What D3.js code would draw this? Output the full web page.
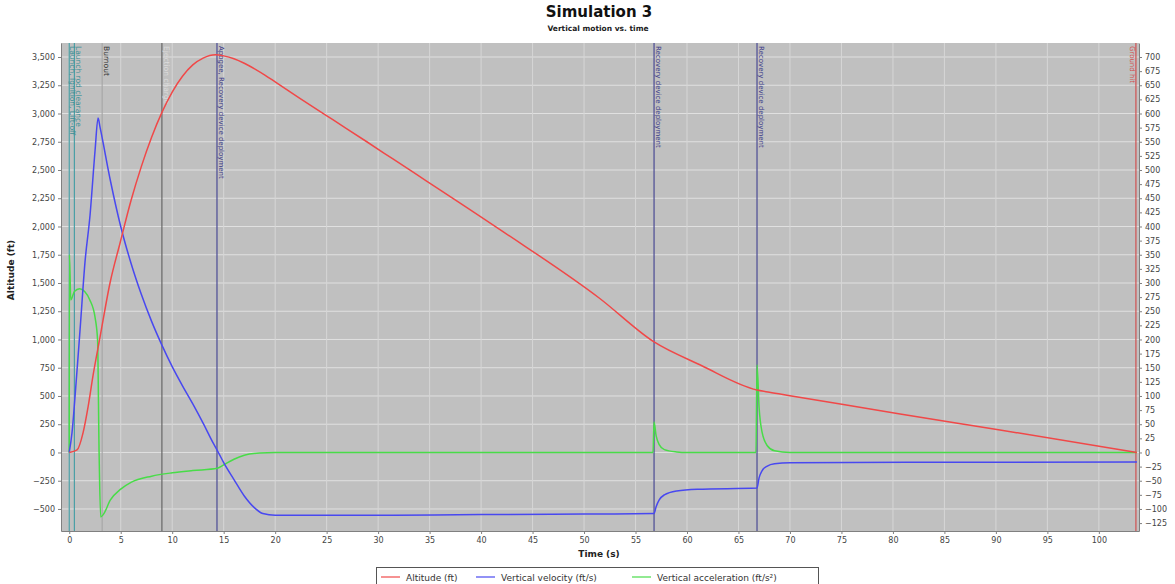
<!DOCTYPE html>
<html>
<head>
<meta charset="utf-8">
<script src="https://cdn.jsdelivr.net/npm/d3@7"></script>
<style>
  body { margin: 0; background: #fff; }
  text { font-family: "DejaVu Sans", sans-serif; }
</style>
</head>
<body>
<svg id="chart" width="1175" height="584"></svg>
<script>
// values
const altTime = [0, 0.76, 1.34, 1.83, 2.31, 2.99, 3.96, 4.93, 6, 7, 8, 9, 10, 11, 12, 13, 14.2, 15, 16, 17, 18, 19, 20, 22.4, 25.6, 28.9, 31.4, 41.8, 51.5, 56.8, 61.3, 66.8, 68, 70, 80.7, 90.4, 103.7];
const altitude = [0, 22, 173, 403, 680, 1020, 1500, 1852, 2230, 2530, 2790, 3010, 3190, 3330, 3430, 3490, 3520, 3510, 3485, 3445, 3395, 3340, 3280, 3135, 2945, 2750, 2600, 1975, 1365, 978, 774, 553, 533, 503, 341, 199, 0];

const velTime = [0, 0.27, 0.56, 1.05, 1.53, 2.02, 2.51, 2.8, 3.0, 4, 5, 6, 7, 8, 9, 10, 11, 12, 13, 14, 14.4, 15, 16, 17, 18, 18.8, 20, 30, 40, 50, 56.8, 57.0, 57.3, 57.8, 59, 61, 66.8, 67.0, 67.3, 67.8, 68.5, 70, 103.7];
const velocity = [0, 35, 98, 217, 337, 420, 535, 592, 575, 481, 400, 335, 280, 232, 190, 152, 118, 86, 52, 16, 3, -18, -48, -77, -98, -108, -111, -111, -110, -109, -108, -96, -84, -75, -68, -65, -63, -45, -32, -24, -20, -18, -17];

const accTime = [0, 0.02, 0.15, 0.5, 1.0, 1.5, 2.0, 2.5, 2.75, 2.9, 3.05, 3.3, 4, 5, 6, 8, 10, 12, 14.4, 15, 16, 17, 18.5, 20, 56.7, 56.8, 57.0, 57.3, 57.8, 59, 60, 66.7, 66.8, 67.0, 67.3, 67.8, 68.5, 70, 103.7];
const acceleration = [0, 350, 270, 285, 290, 285, 270, 240, 200, 0, -114, -110, -84, -65, -53, -42, -36, -32, -28, -22, -12, -5, -1, 0, 0, 54, 30, 14, 5, 1, 0, 0, 155, 80, 35, 12, 3, 0, 0];

const xTicks = [0, 5, 10, 15, 20, 25, 30, 35, 40, 45, 50, 55, 60, 65, 70, 75, 80, 85, 90, 95, 100];
const leftTicks = [-500, -250, 0, 250, 500, 750, 1000, 1250, 1500, 1750, 2000, 2250, 2500, 2750, 3000, 3250, 3500];
const rightTicks = [-125, -100, -75, -50, -25, 0, 25, 50, 75, 100, 125, 150, 175, 200, 225, 250, 275, 300, 325, 350, 375, 400, 425, 450, 475, 500, 525, 550, 575, 600, 625, 650, 675, 700];

const eventTimes = [0, 0.5, 3.2, 9.0, 14.35, 56.8, 66.8, 103.6];
const eventNames = ["Launch, Ignition, Lift-off", "Launch rod clearance", "Burnout", "Ejection charge", "Apogee, Recovery device deployment", "Recovery device deployment", "Recovery device deployment", "Ground hit"];
const eventColors = ["#4a9fa6", "#4a9fa6", "#a8a8a8", "#666666", "#4a4a94", "#4a4a94", "#4a4a94", "#d05050"];
const eventTextColors = ["#3d8f96", "#3d8f96", "#333333", "#dcdcdc", "#3a3a88", "#3a3a88", "#3a3a88", "#d05050"];

const svg = d3.select("#chart");
const pLeft = 61, pRight = 1139, pTop = 43, pBottom = 531;

const x = d3.scaleLinear().domain([-0.8, 103.9]).range([pLeft, pRight]);
const yL = d3.scaleLinear().domain([-695, 3624]).range([pBottom, pTop]);
const yR = d3.scaleLinear().domain([-139, 724.8]).range([pBottom, pTop]);

// plot background
svg.append("rect").attr("x", pLeft).attr("y", pTop).attr("width", pRight - pLeft).attr("height", pBottom - pTop)
  .attr("fill", "#c0c0c0");

// grid
const grid = svg.append("g");
grid.selectAll(".gy").data(leftTicks).enter().append("line")
  .attr("x1", pLeft).attr("x2", pRight).attr("y1", d => yL(d)).attr("y2", d => yL(d))
  .attr("stroke", "#e0e0e0").attr("stroke-width", 1);
grid.selectAll(".gx").data(xTicks).enter().append("line")
  .attr("x1", d => x(d)).attr("x2", d => x(d)).attr("y1", pTop).attr("y2", pBottom)
  .attr("stroke", "#d6d6d6").attr("stroke-width", 1);

// event markers
const ev = svg.append("g");
eventTimes.forEach((t, i) => {
  ev.append("line").attr("x1", x(t)).attr("x2", x(t)).attr("y1", pTop).attr("y2", pBottom)
    .attr("stroke", eventColors[i]).attr("stroke-width", 1.2);
});
eventTimes.forEach((t, i) => {
  let off = 4;
  if (i === 0) off = 3;
  if (i === eventTimes.length - 1) off = -4;
  ev.append("text")
    .attr("transform", "translate(" + (x(t) + off) + "," + (pTop + 3) + ") rotate(90)")
    .attr("text-anchor", "start")
    .attr("dominant-baseline", "middle")
    .attr("font-size", i >= 4 ? "7px" : "7.5px")
    .attr("fill", eventTextColors[i])
    .text(eventNames[i]);
});

// clip for lines
svg.append("clipPath").attr("id", "clip").append("rect")
  .attr("x", pLeft).attr("y", pTop).attr("width", pRight - pLeft).attr("height", pBottom - pTop);

const plot = svg.append("g").attr("clip-path", "url(#clip)");

const lineAlt = d3.line().x((d, i) => x(altTime[i])).y(d => yL(d)).curve(d3.curveMonotoneX);
const lineVel = d3.line().x((d, i) => x(velTime[i])).y(d => yR(d)).curve(d3.curveMonotoneX);
const lineAcc = d3.line().x((d, i) => x(accTime[i])).y(d => yR(d)).curve(d3.curveMonotoneX);

plot.append("path").attr("d", lineAcc(acceleration)).attr("fill", "none").attr("stroke", "#48dc48").attr("stroke-width", 1.5);
plot.append("path").attr("d", lineVel(velocity)).attr("fill", "none").attr("stroke", "#4848f0").attr("stroke-width", 1.5);
plot.append("path").attr("d", lineAlt(altitude)).attr("fill", "none").attr("stroke", "#f04848").attr("stroke-width", 1.5);

// axes
const axisFont = g => g.selectAll("text").attr("font-size", "8px").attr("fill", "#444");
const axisStyle = g => {
  g.select(".domain").attr("stroke", "#808080");
  g.selectAll(".tick line").attr("stroke", "#808080");
};

svg.append("g").attr("transform", "translate(" + pLeft + ",0)")
  .call(d3.axisLeft(yL).tickValues(leftTicks).tickFormat(d3.format(",")).tickSize(3).tickSizeOuter(0))
  .call(axisFont).call(axisStyle);

svg.append("g").attr("transform", "translate(" + pRight + ",0)")
  .call(d3.axisRight(yR).tickValues(rightTicks).tickSize(3).tickSizeOuter(0))
  .call(axisFont).call(axisStyle);

svg.append("g").attr("transform", "translate(0," + pBottom + ")")
  .call(d3.axisBottom(x).tickValues(xTicks).tickSize(3).tickSizeOuter(0))
  .call(axisFont).call(axisStyle);

// titles
svg.append("text").attr("x", 599).attr("y", 17).attr("text-anchor", "middle")
  .attr("font-size", "15px").attr("font-weight", "bold").attr("fill", "#111").text("Simulation 3");
svg.append("text").attr("x", 598).attr("y", 31).attr("text-anchor", "middle")
  .attr("font-size", "7.5px").attr("font-weight", "bold").attr("fill", "#222").text("Vertical motion vs. time");

svg.append("text").attr("x", 599).attr("y", 557).attr("text-anchor", "middle")
  .attr("font-size", "9px").attr("font-weight", "bold").attr("fill", "#222").text("Time (s)");

svg.append("text").attr("transform", "translate(14,270) rotate(-90)").attr("text-anchor", "middle")
  .attr("font-size", "9px").attr("font-weight", "bold").attr("fill", "#222").text("Altitude (ft)");

// legend
const legendNames = ["Altitude (ft)", "Vertical velocity (ft/s)", "Vertical acceleration (ft/s²)"];
const legendColors = ["#f04848", "#4848f0", "#48dc48"];
const legendX = [381, 476, 632];
const lg = svg.append("g");
lg.append("rect").attr("x", 376.5).attr("y", 567.5).attr("width", 442).attr("height", 22)
  .attr("fill", "#fff").attr("stroke", "#555");
legendNames.forEach((n, i) => {
  lg.append("line").attr("x1", legendX[i]).attr("x2", legendX[i] + 19).attr("y1", 577).attr("y2", 577)
    .attr("stroke", legendColors[i]).attr("stroke-width", 1.2);
  lg.append("text").attr("x", legendX[i] + 25).attr("y", 580.5)
    .attr("font-size", "9px").attr("fill", "#333").text(n);
});
</script>
</body>
</html>
